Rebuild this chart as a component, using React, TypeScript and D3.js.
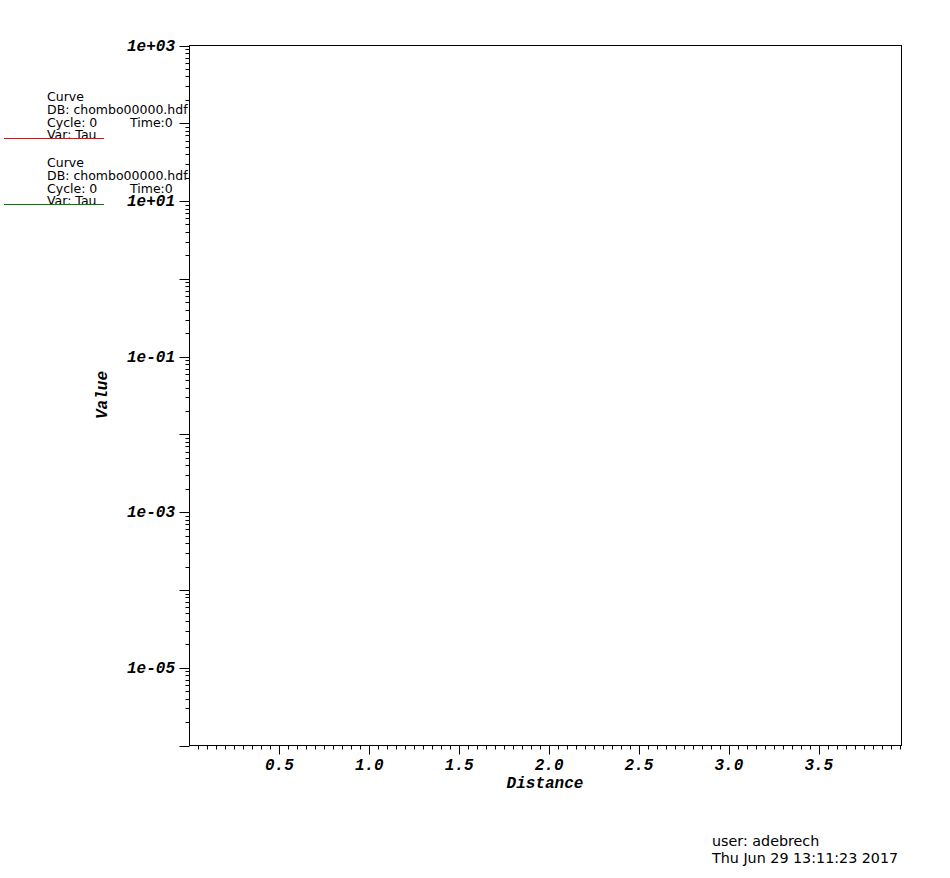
import React from "react";
import * as d3 from "d3";

const xDomain = [0, 3.96];
const yDomain = [1e-6, 1e3];
const xMajorTicks = [0.5, 1.0, 1.5, 2.0, 2.5, 3.0, 3.5];
const xTickLabels = ["0.5", "1.0", "1.5", "2.0", "2.5", "3.0", "3.5"];
const yLabelTicks = [1e3, 1e1, 1e-1, 1e-3, 1e-5];
const yTickLabels = ["1e+03", "1e+01", "1e-01", "1e-03", "1e-05"];
const curveNames = ["Curve", "Curve"];
const curveDBs = ["chombo00000.hdf", "chombo00000.hdf"];
const curveCycles = [0, 0];
const curveTimes = [0, 0];
const curveVars = ["Tau", "Tau"];
const curveColors = ["#ff0000", "#008000"];
const curveRed: [number, number][] = [];
const curveGreen: [number, number][] = [];
const curves = [curveRed, curveGreen];
const userLine = "user: adebrech";
const dateLine = "Thu Jun 29 13:11:23 2017";

const L = 189.5, R = 901.5, T = 45.5, B = 745.5;

export default function App() {
  const x = d3.scaleLinear().domain(xDomain).range([L, R]);
  const y = d3.scaleLog().domain(yDomain).range([B, T]);
  const minorX = d3.range(0.05, 3.96, 0.05).filter((v) => Math.abs(v * 2 - Math.round(v * 2)) > 1e-6);
  const decades = d3.range(-6, 4).map((e) => Math.pow(10, e));
  const minorY: number[] = [];
  for (let e = -6; e < 3; e++) for (let m = 2; m <= 9; m++) minorY.push(m * Math.pow(10, e));
  const line = d3.line<[number, number]>().x((d) => x(d[0])).y((d) => y(d[1]));
  const mono = "'Liberation Mono', 'DejaVu Sans Mono', monospace";
  const sans = "'DejaVu Sans', sans-serif";
  return (
    <svg width={950} height={878} style={{ position: "absolute", left: 0, top: 0, background: "#fff" }}>
      <rect x={0} y={0} width={950} height={878} fill="#fff" />
      {curves.map((c, i) => (
        <path key={i} d={line(c) || ""} fill="none" stroke={curveColors[i]} strokeWidth={1} />
      ))}
      <rect x={L} y={T} width={R - L} height={B - T} fill="none" stroke="#000" strokeWidth={1} />
      {minorX.map((v, i) => (
        <line key={"mx" + i} x1={Math.round(x(v)) + 0.5} x2={Math.round(x(v)) + 0.5} y1={B} y2={B + 4} stroke="#000" />
      ))}
      {xMajorTicks.map((v, i) => (
        <g key={"Mx" + i}>
          <line x1={Math.round(x(v)) + 0.5} x2={Math.round(x(v)) + 0.5} y1={B} y2={B + 9} stroke="#000" />
          <text x={x(v)} y={770} textAnchor="middle" fontFamily={mono} fontWeight="bold" fontStyle="italic" fontSize={16}>
            {xTickLabels[i]}
          </text>
        </g>
      ))}
      {minorY.map((v, i) => (
        <line key={"my" + i} x1={L - 4} x2={L} y1={Math.round(y(v)) + 0.5} y2={Math.round(y(v)) + 0.5} stroke="#000" />
      ))}
      {decades.map((v, i) => (
        <line key={"My" + i} x1={L - 10} x2={L} y1={Math.round(y(v)) + 0.5} y2={Math.round(y(v)) + 0.5} stroke="#000" />
      ))}
      {yLabelTicks.map((v, i) => (
        <text key={"yl" + i} x={175} y={y(v) + 5} textAnchor="end" fontFamily={mono} fontWeight="bold" fontStyle="italic" fontSize={16}>
          {yTickLabels[i]}
        </text>
      ))}
      <text x={545} y={788} textAnchor="middle" fontFamily={mono} fontWeight="bold" fontStyle="italic" fontSize={16}>
        Distance
      </text>
      <text transform="translate(107,395) rotate(-90)" textAnchor="middle" fontFamily={mono} fontWeight="bold" fontStyle="italic" fontSize={16}>
        Value
      </text>
      {curveNames.map((n, i) => {
        const oy = 101 + i * 66;
        return (
          <g key={"lg" + i} fontFamily={sans} fontSize={12.5} fill="#000">
            <text x={47} y={oy}>{n}</text>
            <text x={47} y={oy + 12.8}>{"DB: " + curveDBs[i]}</text>
            <text x={47} y={oy + 25.6}>{"Cycle: " + curveCycles[i]}</text>
            <text x={130} y={oy + 25.6}>{"Time:" + curveTimes[i]}</text>
            <text x={47} y={oy + 38.4}>{"Var: " + curveVars[i]}</text>
            <line x1={4} x2={104} y1={oy + 37.5} y2={oy + 37.5} stroke={curveColors[i]} strokeWidth={1} />
          </g>
        );
      })}
      <text x={712} y={846} fontFamily={sans} fontSize={14.3}>{userLine}</text>
      <text x={712} y={863} fontFamily={sans} fontSize={14.3}>{dateLine}</text>
    </svg>
  );
}
